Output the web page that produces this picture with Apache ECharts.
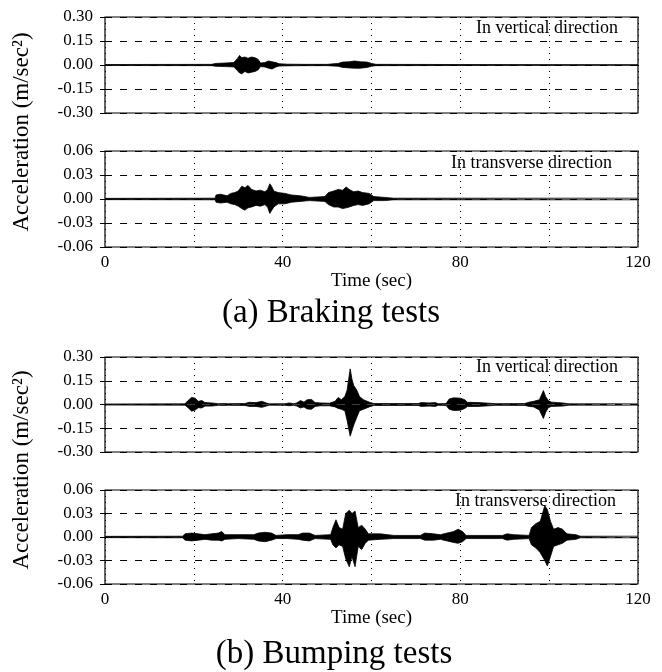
<!DOCTYPE html>
<html>
<head>
<meta charset="utf-8">
<script src="https://cdn.jsdelivr.net/npm/echarts@6/dist/echarts.min.js"></script>
<style>
html, body { margin: 0; padding: 0; background: #fff; }
#main { width: 662px; height: 672px; }
</style>
</head>
<body>
<div id="main"></div>
<script>
var brakeVertT  = [0, 24, 25, 27, 29, 29.8, 30.3, 30.8, 31.5, 32.2, 33, 33.8, 34.5, 35, 36, 36.8, 37.6, 38.5, 39.2, 41, 45, 50, 52.5, 53.5, 55, 56.2, 57.5, 59, 60, 61, 80, 120];
var brakeVertUp = [0.003, 0.004, 0.01, 0.012, 0.015, 0.04, 0.06, 0.045, 0.05, 0.042, 0.05, 0.045, 0.035, 0.012, 0.015, 0.025, 0.02, 0.015, 0.008, 0.005, 0.004, 0.004, 0.01, 0.018, 0.02, 0.025, 0.02, 0.018, 0.01, 0.004, 0.003, 0.003];
var brakeVertLo = [-0.003, -0.004, -0.008, -0.01, -0.012, -0.035, -0.05, -0.055, -0.04, -0.05, -0.045, -0.04, -0.03, -0.01, -0.012, -0.02, -0.025, -0.012, -0.007, -0.005, -0.004, -0.004, -0.008, -0.015, -0.018, -0.02, -0.02, -0.015, -0.008, -0.004, -0.003, -0.003];

var brakeTranT  = [0, 24.8, 25, 26, 27.5, 28.3, 29.2, 30, 30.8, 31.5, 32.2, 33, 34, 35, 36, 36.6, 37.1, 37.5, 38, 39, 40.5, 42, 44, 46, 49.5, 50.3, 51.5, 52.5, 53.5, 54.3, 55, 56, 57, 58, 59.5, 60.5, 63, 65, 120];
var brakeTranUp = [0.0008, 0.001, 0.005, 0.006, 0.004, 0.007, 0.008, 0.01, 0.016, 0.014, 0.017, 0.012, 0.01, 0.011, 0.009, 0.012, 0.019, 0.016, 0.01, 0.008, 0.007, 0.005, 0.004, 0.002, 0.003, 0.008, 0.01, 0.012, 0.011, 0.015, 0.012, 0.009, 0.01, 0.008, 0.007, 0.003, 0.002, 0.001, 0.001];
var brakeTranLo = [-0.0008, -0.001, -0.004, -0.005, -0.004, -0.006, -0.007, -0.009, -0.012, -0.014, -0.011, -0.01, -0.008, -0.009, -0.007, -0.01, -0.018, -0.02, -0.01, -0.006, -0.006, -0.004, -0.003, -0.002, -0.003, -0.007, -0.01, -0.01, -0.012, -0.011, -0.01, -0.008, -0.007, -0.008, -0.006, -0.002, -0.002, -0.001, -0.001];

var bumpVertT  = [0, 18, 18.7, 19.5, 20.3, 21, 21.8, 22.5, 24, 25.5, 26.8, 27.2, 27.8, 31.5, 32.5, 34, 35.3, 36.3, 37, 40.5, 41.5, 42.5, 43.2, 44, 44.8, 45.5, 46.5, 47.3, 48.5, 50.5, 51.8, 52.5, 53.2, 54, 54.5, 55.2, 55.6, 56, 56.7, 57.3, 58.2, 59.5, 60.5, 70.5, 71.2, 73, 74.4, 75, 76.8, 77.5, 78.5, 80, 81, 81.6, 84, 86.5, 88, 94.5, 95.5, 96.5, 97.8, 98.7, 99.2, 99.8, 100.5, 103, 104.5, 120];
var bumpVertUp = [0.003, 0.004, 0.025, 0.045, 0.04, 0.02, 0.025, 0.012, 0.01, 0.005, 0.006, 0.015, 0.005, 0.006, 0.014, 0.012, 0.02, 0.01, 0.004, 0.005, 0.01, 0.005, 0.01, 0.025, 0.015, 0.03, 0.032, 0.012, 0.01, 0.008, 0.02, 0.045, 0.03, 0.05, 0.09, 0.225, 0.16, 0.12, 0.09, 0.05, 0.03, 0.015, 0.006, 0.006, 0.012, 0.01, 0.012, 0.005, 0.006, 0.035, 0.042, 0.04, 0.03, 0.014, 0.012, 0.008, 0.005, 0.006, 0.015, 0.02, 0.03, 0.088, 0.05, 0.025, 0.015, 0.01, 0.004, 0.004];
var bumpVertLo = [-0.003, -0.004, -0.02, -0.042, -0.035, -0.02, -0.022, -0.01, -0.01, -0.005, -0.006, -0.015, -0.005, -0.006, -0.012, -0.012, -0.018, -0.01, -0.004, -0.005, -0.008, -0.005, -0.01, -0.022, -0.015, -0.028, -0.03, -0.012, -0.008, -0.008, -0.015, -0.025, -0.03, -0.04, -0.1, -0.2, -0.19, -0.13, -0.08, -0.04, -0.03, -0.015, -0.006, -0.006, -0.012, -0.01, -0.012, -0.005, -0.006, -0.03, -0.038, -0.036, -0.025, -0.013, -0.012, -0.008, -0.005, -0.006, -0.012, -0.015, -0.035, -0.088, -0.05, -0.02, -0.012, -0.01, -0.004, -0.004];

var bumpTranT  = [0, 17.5, 18, 19.5, 21, 22.5, 24, 25.5, 26.3, 27, 30, 33.5, 34.5, 36, 37.5, 38.5, 41, 43.5, 44.5, 46, 47.3, 50.8, 51.3, 52, 52.7, 53.5, 54.2, 55, 55.6, 56.3, 57, 57.8, 58.6, 59.3, 62, 65, 71, 72, 74, 75.5, 77, 78.5, 79.5, 80.5, 81.3, 89.5, 90.5, 92, 95.5, 96, 97, 98, 99, 99.6, 100.3, 101, 102, 103, 104, 106, 107, 120];
var bumpTranUp = [0.0008, 0.001, 0.004, 0.005, 0.004, 0.003, 0.004, 0.005, 0.007, 0.003, 0.003, 0.003, 0.005, 0.006, 0.005, 0.002, 0.003, 0.003, 0.005, 0.005, 0.002, 0.003, 0.012, 0.022, 0.012, 0.01, 0.03, 0.034, 0.03, 0.033, 0.012, 0.015, 0.01, 0.004, 0.004, 0.002, 0.002, 0.005, 0.004, 0.003, 0.005, 0.007, 0.01, 0.007, 0.002, 0.002, 0.004, 0.003, 0.002, 0.012, 0.017, 0.02, 0.04, 0.035, 0.02, 0.01, 0.012, 0.01, 0.004, 0.003, 0.001, 0.001];
var bumpTranLo = [-0.0008, -0.001, -0.004, -0.005, -0.004, -0.003, -0.004, -0.004, -0.005, -0.003, -0.002, -0.003, -0.005, -0.006, -0.004, -0.002, -0.002, -0.003, -0.004, -0.005, -0.002, -0.003, -0.01, -0.014, -0.01, -0.012, -0.028, -0.038, -0.025, -0.038, -0.012, -0.016, -0.008, -0.004, -0.003, -0.002, -0.002, -0.004, -0.004, -0.003, -0.005, -0.007, -0.008, -0.006, -0.002, -0.002, -0.004, -0.003, -0.002, -0.01, -0.014, -0.02, -0.03, -0.037, -0.025, -0.012, -0.01, -0.008, -0.004, -0.003, -0.001, -0.001];

var timeLabels = [0, 40, 80, 120];
var serif = '"Liberation Serif", "DejaVu Serif", serif';

var myChart = echarts.init(document.getElementById('main'));

var grids = [
    {left: 105, width: 533, top: 17, height: 96},
    {left: 105, width: 533, top: 151, height: 96},
    {left: 105, width: 533, top: 357, height: 95},
    {left: 105, width: 533, top: 490, height: 94}
];
grids.forEach(function (g) {
    g.show = true;
    g.borderColor = '#000';
    g.borderWidth = 1.2;
    g.backgroundColor = 'transparent';
});

function xAxisFor(i, withLabels) {
    return {
        type: 'value', gridIndex: i, min: 0, max: 120, interval: 20,
        axisLine: {show: false},
        axisTick: {show: false},
        axisLabel: {
            show: withLabels, margin: 7, color: '#000', fontFamily: serif, fontSize: 17,
            formatter: function (v) { return timeLabels.indexOf(v) >= 0 ? String(v) : ''; }
        },
        splitLine: {show: true, lineStyle: {color: '#000', width: 1, type: [1, 5]}},
        name: withLabels ? 'Time (sec)' : '',
        nameLocation: 'middle', nameGap: 25,
        nameTextStyle: {color: '#000', fontFamily: serif, fontSize: 19}
    };
}

function yAxisFor(i, lim, step) {
    return {
        type: 'value', gridIndex: i, min: -lim, max: lim, interval: step,
        axisLine: {show: false},
        axisTick: {show: true, length: 5, lineStyle: {color: '#000'}},
        axisLabel: {
            margin: 12, color: '#000', fontFamily: serif, fontSize: 17,
            formatter: function (v) { return v.toFixed(2); }
        },
        splitLine: {show: true, lineStyle: {color: '#000', width: 1, type: [7, 8]}}
    };
}

function band(i, t, up, lo) {
    var common = {
        type: 'line', xAxisIndex: i, yAxisIndex: i, symbol: 'none', silent: true,
        lineStyle: {color: '#000', width: 0.8},
        areaStyle: {color: '#000', opacity: 1}
    };
    var s1 = Object.assign({}, common, {data: t.map(function (x, k) { return [x, up[k]]; })});
    var s2 = Object.assign({}, common, {data: t.map(function (x, k) { return [x, lo[k]]; })});
    return [s1, s2];
}

function label(text, x, y, size, align) {
    return {
        type: 'text', x: x, y: y, silent: true,
        style: {text: text, fill: '#000', font: size + 'px ' + serif, textAlign: align || 'center', textVerticalAlign: 'middle'}
    };
}

var option = {
    animation: false,
    backgroundColor: '#fff',
    grid: grids,
    xAxis: [xAxisFor(0, false), xAxisFor(1, true), xAxisFor(2, false), xAxisFor(3, true)],
    yAxis: [yAxisFor(0, 0.30, 0.15), yAxisFor(1, 0.06, 0.03), yAxisFor(2, 0.30, 0.15), yAxisFor(3, 0.06, 0.03)],
    series: [].concat(
        band(0, brakeVertT, brakeVertUp, brakeVertLo),
        band(1, brakeTranT, brakeTranUp, brakeTranLo),
        band(2, bumpVertT, bumpVertUp, bumpVertLo),
        band(3, bumpTranT, bumpTranUp, bumpTranLo)
    ),
    graphic: [
        label('In vertical direction', 618, 28, 18, 'right'),
        label('In transverse direction', 612, 163, 18, 'right'),
        label('In vertical direction', 618, 367, 18, 'right'),
        label('In transverse direction', 616, 501, 18, 'right'),
        label('(a) Braking tests', 331, 313, 33),
        label('(b) Bumping tests', 334, 654, 33),
        Object.assign(label('Acceleration (m/sec\u00b2)', 22, 132, 23), {rotation: Math.PI / 2}),
        Object.assign(label('Acceleration (m/sec\u00b2)', 22, 470, 23), {rotation: Math.PI / 2})
    ]
};
myChart.setOption(option);
</script>
</body>
</html>
